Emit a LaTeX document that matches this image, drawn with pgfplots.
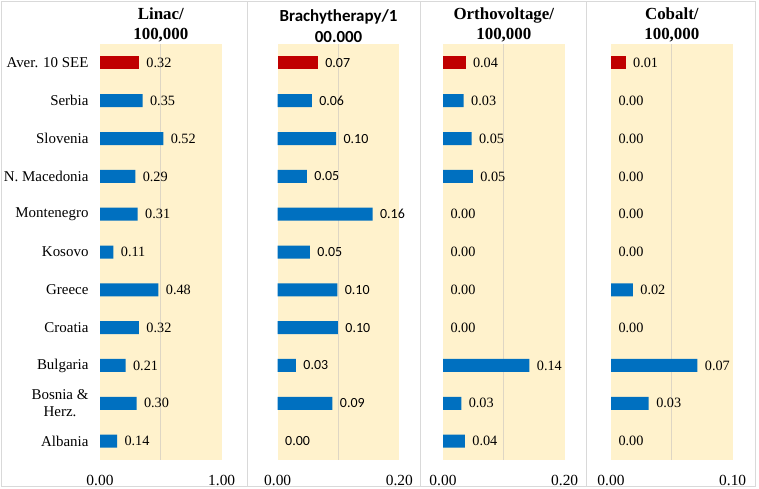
\documentclass[border=0pt]{standalone}
\usepackage{fontspec}
\setmainfont{Liberation Serif}
\newfontfamily\carlito{Carlito}
\usepackage{pgfplots}
\usepackage{pgfplotstable}
\pgfplotsset{compat=1.18}
\pgfkeys{/pgf/number format/assume math mode=true}
\definecolor{cream}{RGB}{255,242,204}
\definecolor{barblue}{RGB}{0,112,192}
\definecolor{barred}{RGB}{192,0,0}
\definecolor{framegrey}{RGB}{217,217,217}
\definecolor{gridc}{RGB}{222,214,196}

\pgfplotstableread{
idx linac brachy ortho cobalt
0 0.32 0.066 0.037 0.012
1 0.35 0.056 0.034 0
2 0.52 0.096 0.047 0
3 0.29 0.048 0.049 0
4 0.31 0.156 0 0
5 0.11 0.053 0 0
6 0.48 0.098 0 0.018
7 0.32 0.099 0 0
8 0.21 0.030 0.142 0.071
9 0.30 0.090 0.030 0.031
10 0.14 0 0.036 0
}\data

\pgfplotsset{
 panel/.style={
  scale only axis, width=121.7bp, height=416bp,
  anchor=south west,
  xbar, bar width=13bp, bar shift=0pt, y dir=reverse,
  ymin=-0.5, ymax=10.5, ytick=\empty,
  xmin=0,
  axis line style={draw=none}, major tick length=0,
  axis background/.style={fill=cream},
  xticklabel={\pgfmathprintnumber[fixed,zerofill,precision=2]{\tick}},
  xticklabel style={font=\fontsize{15.5}{17}\selectfont, yshift=-12bp},
  nodes near coords style={font=\fontsize{14.3}{16}\selectfont, anchor=west, xshift=4bp, text=black},
  extra x tick style={grid=major, major grid style={gridc, line width=0.8bp}},
  extra x tick labels={},
  title style={font=\bfseries\fontsize{17}{20}\selectfont, align=center, at={(0.5,1)}, anchor=south, yshift=-8bp},
 },
 blueb/.style={draw=none, fill=barblue, skip coords between index={0}{1}, restrict x to domain=0.0001:10},
 redb/.style={draw=none, fill=barred, skip coords between index={1}{11}, restrict x to domain=0.0001:10},
 labs/.style={sharp plot, draw=none, mark=none, point meta=x,
   nodes near coords={\pgfmathprintnumber[fixed,zerofill,precision=2]{\pgfplotspointmeta}}},
}

\begin{document}
\begin{tikzpicture}
\draw[framegrey, line width=1bp] (1bp,2bp) rectangle (755bp,487bp);
\draw[framegrey, line width=1bp] (247bp,2bp) -- (247bp,487bp);
\draw[framegrey, line width=1bp] (420.5bp,2bp) -- (420.5bp,487bp);
\draw[framegrey, line width=1bp] (586bp,2bp) -- (586bp,487bp);

\begin{axis}[panel, at={(100bp,29bp)}, xmax=1, xtick={0,1}, extra x ticks={0.5},
  title={Linac/\\100,000},
  ytick={0,...,10},
  yticklabels={Aver. 10 SEE, Serbia, Slovenia, N. Macedonia, Montenegro, Kosovo, Greece, Croatia, Bulgaria, {Bosnia \&\\Herz.}, Albania},
  yticklabel style={font=\fontsize{15}{17}\selectfont, align=center, xshift=-8bp}]
\addplot[redb] table[x=linac, y=idx] {\data};
\addplot[blueb] table[x=linac, y=idx] {\data};
\addplot[labs] table[x=linac, y=idx] {\data};
\end{axis}

\begin{axis}[panel, at={(277.7bp,29bp)}, xmax=0.2, xtick={0,0.2}, extra x ticks={0.1},
  title={Brachytherapy/1\\00.000},
  title style={font=\carlito\bfseries\fontsize{17}{21}\selectfont, yshift=0bp},
  nodes near coords style={font=\carlito\fontsize{14}{16}\selectfont}]
\addplot[redb] table[x=brachy, y=idx] {\data};
\addplot[blueb] table[x=brachy, y=idx] {\data};
\addplot[labs] table[x=brachy, y=idx] {\data};
\end{axis}

\begin{axis}[panel, at={(443bp,29bp)}, xmax=0.2, xtick={0,0.2}, extra x ticks={0.1},
  title={Orthovoltage/\\100,000}]
\addplot[redb] table[x=ortho, y=idx] {\data};
\addplot[blueb] table[x=ortho, y=idx] {\data};
\addplot[labs] table[x=ortho, y=idx] {\data};
\end{axis}

\begin{axis}[panel, at={(611bp,29bp)}, xmax=0.1, xtick={0,0.1}, extra x ticks={0.05},
  title={Cobalt/\\100,000}]
\addplot[redb] table[x=cobalt, y=idx] {\data};
\addplot[blueb] table[x=cobalt, y=idx] {\data};
\addplot[labs] table[x=cobalt, y=idx] {\data};
\end{axis}

\pgfresetboundingbox
\path (0,0) rectangle (759bp,489bp);
\end{tikzpicture}
\end{document}
